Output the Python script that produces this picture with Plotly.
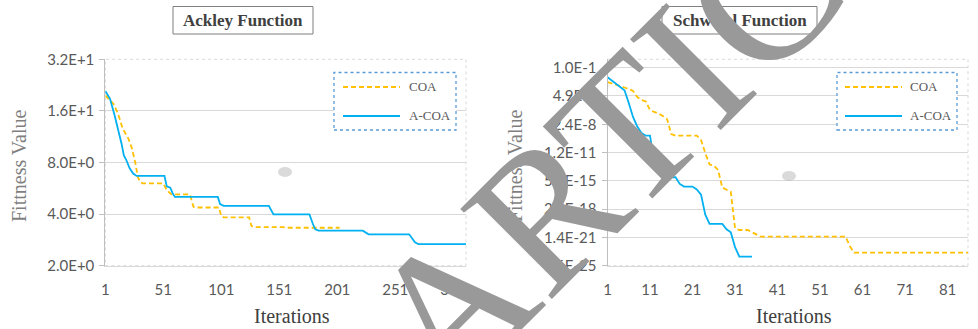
import plotly.graph_objects as go

W, H = 978, 329

# ---- Ackley function convergence ----
ackley_coa_iter = [1, 8, 12, 16, 21, 24, 27, 29, 31, 33, 51, 54, 58, 74, 77, 79, 99, 101, 103,
                   125, 127, 129, 154, 157, 203]
ackley_coa_val = [19.7, 17.6, 15.4, 12.6, 11.0, 9.65, 7.9, 6.6, 6.17, 6.05, 6.05, 5.52, 5.21, 5.21,
                  4.41, 4.37, 4.37, 3.89, 3.83, 3.83, 3.41, 3.36, 3.36, 3.33, 3.33]
ackley_acoa_iter = [1, 5, 9, 12, 15, 17, 19, 22, 25, 28, 52, 54, 57, 59, 61, 98, 100, 103, 142,
                    146, 177, 180, 182, 185, 223, 228, 263, 268, 271, 312]
ackley_acoa_val = [20.9, 18.9, 15.1, 12.6, 10.3, 8.8, 8.3, 7.4, 6.9, 6.68, 6.68, 5.8, 5.7, 5.3,
                   5.04, 5.04, 4.57, 4.47, 4.47, 3.98, 3.98, 3.5, 3.26, 3.2, 3.2, 3.05, 3.05,
                   2.74, 2.67, 2.67]
ackley_ticks = [2, 4, 8, 16, 32]
ackley_ticktext = ["2.0E+0", "4.0E+0", "8.0E+0", "1.6E+1", "3.2E+1"]
ackley_xticks = [1, 51, 101, 151, 201, 251, 301]

# ---- Schwefel function convergence ----
schwefel_coa_iter = [1, 2, 3, 4, 5, 6, 7, 8, 9, 10, 11, 12, 13, 14, 15, 16, 17, 22, 23, 24, 25,
                     26, 27, 28, 29, 30, 31, 32, 34, 35, 36, 37, 57, 58, 59, 86]
schwefel_coa_val = [2.1e-3, 1.5e-3, 1.1e-3, 7.2e-4, 4.8e-4, 3.2e-4, 1.9e-4, 3.7e-5, 1.7e-5,
                    1.1e-5, 1.1e-6, 6.6e-7, 4.4e-7, 2.2e-7, 1.0e-7, 1.7e-9, 1.1e-9, 1.1e-9,
                    3.5e-10, 1.0e-11, 4.7e-13, 3.6e-13, 1.1e-13, 9.5e-16, 4.9e-16, 2.9e-16,
                    1.6e-20, 1.0e-20, 1.0e-20, 5.2e-21, 3.0e-21, 1.7e-21, 1.7e-21, 1.3e-22,
                    2.2e-23, 2.2e-23]
schwefel_acoa_iter = [1, 2, 3, 4, 5, 6, 7, 8, 9, 10, 11, 12, 13, 14, 15, 17, 18, 19, 21, 22, 23,
                      24, 25, 28, 29, 30, 31, 32, 35]
schwefel_acoa_val = [7.6e-3, 3.2e-3, 1.3e-3, 5.5e-4, 2.3e-4, 7.4e-6, 1.7e-7, 1.3e-8, 2.3e-9,
                     1.1e-9, 1.1e-9, 6.3e-13, 2.6e-13, 2.1e-14, 1.5e-14, 1.5e-14, 2.5e-15,
                     1.2e-15, 1.2e-15, 5.6e-16, 1.4e-16, 6.3e-19, 5.1e-20, 5.1e-20, 1.2e-20,
                     5.5e-21, 1.0e-22, 7.8e-24, 7.8e-24]
schwefel_ticks = [1.0e-1, 4.8828e-5, 2.3842e-8, 1.1642e-11, 5.6843e-15, 2.7756e-18,
                  1.3553e-21, 6.6174e-25]
schwefel_ticktext = ["1.0E-1", "4.9E-5", "2.4E-8", "1.2E-11", "5.7E-15", "2.8E-18",
                     "1.4E-21", "6.6E-25"]
schwefel_xticks = [1, 11, 21, 31, 41, 51, 61, 71, 81]

ORANGE = "#FFC000"
BLUE = "#00B0F0"
GRID = "#d9d9d9"
TICKC = "#595959"


def px(x):
    return x / W


def py(y):
    return 1 - y / H


fig = go.Figure()

fig.add_trace(go.Scatter(x=ackley_coa_iter, y=ackley_coa_val, mode="lines", name="COA",
                         line=dict(color=ORANGE, width=1.8, dash="5px,3px"),
                         xaxis="x", yaxis="y", showlegend=False))
fig.add_trace(go.Scatter(x=ackley_acoa_iter, y=ackley_acoa_val, mode="lines", name="A-COA",
                         line=dict(color=BLUE, width=1.8),
                         xaxis="x", yaxis="y", showlegend=False))
fig.add_trace(go.Scatter(x=schwefel_coa_iter, y=schwefel_coa_val, mode="lines", name="COA",
                         line=dict(color=ORANGE, width=1.8, dash="5px,3px"),
                         xaxis="x2", yaxis="y2", showlegend=False))
fig.add_trace(go.Scatter(x=schwefel_acoa_iter, y=schwefel_acoa_val, mode="lines", name="A-COA",
                         line=dict(color=BLUE, width=1.8),
                         xaxis="x2", yaxis="y2", showlegend=False))

tickfont = dict(family="Lato", size=15, color=TICKC)
ydom = [py(265.7), py(59.3)]

xcommon = dict(showgrid=False, zeroline=False, ticks="", tickfont=tickfont, automargin=False,
               showline=True, linecolor=GRID, linewidth=1, ticklabelstandoff=10)
ycommon = dict(type="log", showgrid=True, gridcolor=GRID, gridwidth=1, zeroline=False,
               ticks="outside", ticklen=5, tickcolor="#bfbfbf", tickfont=tickfont,
               automargin=False, showline=True, linecolor="#bfbfbf", linewidth=1,
               ticklabelstandoff=2)

fig.update_layout(
    width=W, height=H, autosize=False,
    margin=dict(l=0, r=0, t=0, b=0, pad=0, autoexpand=False),
    paper_bgcolor="white", plot_bgcolor="white",
    xaxis=dict(domain=[px(105.3), px(466)], range=[1, 312], tickvals=ackley_xticks,
               anchor="y", **xcommon),
    yaxis=dict(domain=ydom, range=[0.30103, 1.50515], tickvals=ackley_ticks,
               ticktext=ackley_ticktext, anchor="x", **ycommon),
    xaxis2=dict(domain=[px(607.5), px(968)], range=[1, 85.8], tickvals=schwefel_xticks,
                anchor="y2", **xcommon),
    yaxis2=dict(domain=ydom, range=[-24.179, -0.017], tickvals=schwefel_ticks,
                ticktext=schwefel_ticktext, anchor="x2", **ycommon),
)

shapes = []
# dotted plot-area borders
for xr, yr in (("x domain", "y domain"), ("x2 domain", "y2 domain")):
    shapes.append(dict(type="rect", xref=xr, yref=yr, x0=0, x1=1, y0=0, y1=1,
                       line=dict(color=GRID, width=1, dash="dot"), layer="below"))

# title boxes
for x0, x1 in ((173, 313), (662, 817)):
    shapes.append(dict(type="rect", xref="paper", yref="paper", x0=px(x0), x1=px(x1),
                       y0=py(34), y1=py(6.5), line=dict(color="#7f7f7f", width=1),
                       fillcolor="white"))

# legend boxes and samples
for bx0, bx1, lx0, lx1 in ((334, 456, 343, 400), (837, 957, 845, 902)):
    shapes.append(dict(type="rect", xref="paper", yref="paper", x0=px(bx0), x1=px(bx1),
                       y0=py(130), y1=py(72.5), fillcolor="white",
                       line=dict(color="#5b9bd5", width=1.3, dash="dot")))
    shapes.append(dict(type="line", xref="paper", yref="paper", x0=px(lx0), x1=px(lx1),
                       y0=py(87), y1=py(87), line=dict(color=ORANGE, width=1.8, dash="5px,3px")))
    shapes.append(dict(type="line", xref="paper", yref="paper", x0=px(lx0), x1=px(lx1),
                       y0=py(116), y1=py(116), line=dict(color=BLUE, width=1.8)))

# faint smudges
for cx, cy in ((285, 172), (789, 176)):
    shapes.append(dict(type="circle", xref="paper", yref="paper", x0=px(cx - 7), x1=px(cx + 7),
                       y0=py(cy + 5), y1=py(cy - 5), fillcolor="rgba(150,150,150,0.35)",
                       line=dict(width=0)))

fig.update_layout(shapes=shapes)

ann = []
serif = "Liberation Serif"


def label(text, x, y, size, color, bold=False, xanchor="center", angle=0):
    ann.append(dict(text=f"<b>{text}</b>" if bold else text, x=px(x), y=py(y),
                    xref="paper", yref="paper", xanchor=xanchor, yanchor="middle",
                    textangle=angle, showarrow=False,
                    font=dict(family=serif, size=size, color=color)))


label("Ackley Function", 243, 20.5, 17, "#404040", bold=True)
label("Schwefel Function", 739.5, 20.5, 17, "#404040", bold=True)
for xt in (407, 908):
    label("COA", xt, 87, 13, TICKC, xanchor="left")
    label("A-COA", xt, 116, 13, TICKC, xanchor="left")
for xc in (19, 515):
    label("Fittness Value", xc, 166, 20, "#7f7f7f", angle=-90)
for xc in (292, 794):
    label("Iterations", xc, 316, 20, "#404040")

# diagonal watermark
label("ARTICLE", 688, 68, 196, "#999999", angle=-45)

fig.update_layout(annotations=ann)

fig.write_html("out.html")
